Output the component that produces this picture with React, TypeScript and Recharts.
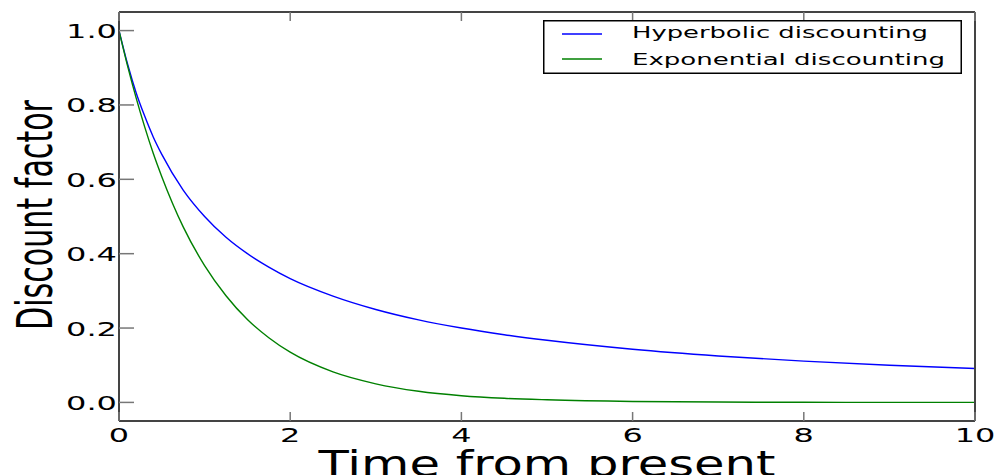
import React from "react";
import { LineChart, Line, XAxis, YAxis, Legend } from "recharts";

const timePoints = [0, 0.1, 0.2, 0.3, 0.4, 0.5, 0.75, 1, 1.25, 1.5, 1.75, 2, 2.5, 3, 3.5, 4, 4.5, 5, 6, 7, 8, 9, 10];
const hyperbolic = [1.0, 0.91, 0.833, 0.77, 0.714, 0.667, 0.571, 0.5, 0.444, 0.4, 0.364, 0.333, 0.286, 0.25, 0.222, 0.2, 0.182, 0.167, 0.143, 0.125, 0.111, 0.1, 0.091];
const exponential = [1.0, 0.905, 0.819, 0.741, 0.67, 0.607, 0.472, 0.368, 0.287, 0.223, 0.174, 0.135, 0.082, 0.05, 0.03, 0.018, 0.011, 0.007, 0.0025, 0.001, 0.0003, 0.0001, 0.00005];

const xTicks = [0, 2, 4, 6, 8, 10];
const yTicks = [0, 0.2, 0.4, 0.6, 0.8, 1.0];
const seriesOrder = ["hyperbolic", "exponential"];

const data = timePoints.map((t, i) => ({
  t,
  hyperbolic: hyperbolic[i],
  exponential: exponential[i],
}));

const FONT = "'DejaVu Sans', sans-serif";
const TICK_COLOR = "#777";
const FRAME_COLOR = "#444";

// stretched look of the original labels
function labelWidth(s: string) {
  let w = 0;
  for (const c of s) w += c === "." ? 6.4 : 12.7;
  return w * 1.6;
}

function BottomTick(props: any) {
  const { x, y, payload } = props;
  const label = String(payload.value);
  return (
    <g>
      <line x1={x} y1={y} x2={x} y2={y - 9} stroke={TICK_COLOR} strokeWidth={1.5} />
      <text
        x={x}
        y={y + 21}
        textAnchor="middle"
        fontSize={20}
        fontFamily={FONT}
        fill="#000"
        textLength={labelWidth(label)}
        lengthAdjust="spacingAndGlyphs"
      >
        {label}
      </text>
    </g>
  );
}

function TopTick(props: any) {
  const { x, y } = props;
  return <line x1={x} y1={y} x2={x} y2={y + 9} stroke={TICK_COLOR} strokeWidth={1.5} />;
}

function LeftTick(props: any) {
  const { x, y, payload } = props;
  const label = Number(payload.value).toFixed(1);
  return (
    <g>
      <line x1={x} y1={y} x2={x + 15} y2={y} stroke={TICK_COLOR} strokeWidth={1.5} />
      <text
        x={x - 2}
        y={y + 7.5}
        textAnchor="end"
        fontSize={20}
        fontFamily={FONT}
        fill="#000"
        textLength={labelWidth(label)}
        lengthAdjust="spacingAndGlyphs"
      >
        {label}
      </text>
    </g>
  );
}

function RightTick(props: any) {
  const { x, y } = props;
  return <line x1={x} y1={y} x2={x - 15} y2={y} stroke={TICK_COLOR} strokeWidth={1.5} />;
}

const legendWidths = [296, 313];

function LegendBox({ payload }: any) {
  const items = [...(payload || [])].sort(
    (a: any, b: any) => seriesOrder.indexOf(a.dataKey) - seriesOrder.indexOf(b.dataKey)
  );
  return (
    <svg width={419} height={54} style={{ display: "block" }}>
      <rect x={0.75} y={0.75} width={417.5} height={52.5} fill="#fff" stroke="#000" strokeWidth={1.5} />
      {items.map((p: any, i: number) => (
        <g key={p.value}>
          <line x1={19} y1={14 + i * 25} x2={59} y2={14 + i * 25} stroke={p.color} strokeWidth={1.3} />
          <text
            x={89}
            y={18 + i * 26.5}
            fontSize={16}
            fontFamily={FONT}
            fill="#000"
            textLength={legendWidths[i]}
            lengthAdjust="spacingAndGlyphs"
          >
            {p.value}
          </text>
        </g>
      ))}
    </svg>
  );
}

export default function App() {
  return (
    <div style={{ position: "absolute", left: 0, top: 0, width: 1002, height: 475, background: "#fff", overflow: "hidden" }}>
      <LineChart width={1002} height={475} data={data} margin={{ top: 11, right: 26, bottom: 0, left: 0 }}>
        <XAxis
          xAxisId="bottom"
          dataKey="t"
          type="number"
          domain={[0, 10]}
          ticks={xTicks}
          height={54}
          tickSize={0}
          tickMargin={0}
          tickLine={false}
          axisLine={{ stroke: FRAME_COLOR, strokeWidth: 2 }}
          tick={<BottomTick />}
          interval={0}
        />
        <XAxis
          xAxisId="top"
          orientation="top"
          dataKey="t"
          type="number"
          domain={[0, 10]}
          ticks={xTicks}
          height={1}
          tickSize={0}
          tickMargin={0}
          tickLine={false}
          axisLine={{ stroke: FRAME_COLOR, strokeWidth: 2 }}
          tick={<TopTick />}
          interval={0}
        />
        <YAxis
          yAxisId="left"
          type="number"
          domain={[-0.05, 1.05]}
          ticks={yTicks}
          width={119}
          tickSize={0}
          tickMargin={0}
          tickLine={false}
          axisLine={{ stroke: FRAME_COLOR, strokeWidth: 2 }}
          tick={<LeftTick />}
          interval={0}
        />
        <YAxis
          yAxisId="right"
          orientation="right"
          type="number"
          domain={[-0.05, 1.05]}
          ticks={yTicks}
          width={1}
          tickSize={0}
          tickMargin={0}
          tickLine={false}
          axisLine={{ stroke: FRAME_COLOR, strokeWidth: 2 }}
          tick={<RightTick />}
          interval={0}
        />
        <Line
          xAxisId="bottom"
          yAxisId="left"
          type="monotone"
          dataKey="hyperbolic"
          name="Hyperbolic discounting"
          stroke="#0000ff"
          strokeWidth={1.4}
          dot={false}
          isAnimationActive={false}
        />
        <Line
          xAxisId="bottom"
          yAxisId="left"
          type="monotone"
          dataKey="exponential"
          name="Exponential discounting"
          stroke="#008000"
          strokeWidth={1.4}
          dot={false}
          isAnimationActive={false}
        />
        <Legend
          layout="vertical"
          align="center"
          verticalAlign="middle"
          content={<LegendBox />}
          wrapperStyle={{ left: 543, top: 20, width: 419, height: 54 }}
        />
      </LineChart>
      <svg width={1002} height={475} style={{ position: "absolute", left: 0, top: 0, pointerEvents: "none" }}>
        <text
          transform="translate(52,215) rotate(-90)"
          textAnchor="middle"
          fontSize={50}
          fontFamily={FONT}
          fill="#000"
          textLength={230}
          lengthAdjust="spacingAndGlyphs"
        >
          Discount factor
        </text>
        <text
          x={547}
          y={476}
          textAnchor="middle"
          fontSize={36}
          fontFamily={FONT}
          fill="#000"
          textLength={457}
          lengthAdjust="spacingAndGlyphs"
        >
          Time from present
        </text>
      </svg>
    </div>
  );
}
